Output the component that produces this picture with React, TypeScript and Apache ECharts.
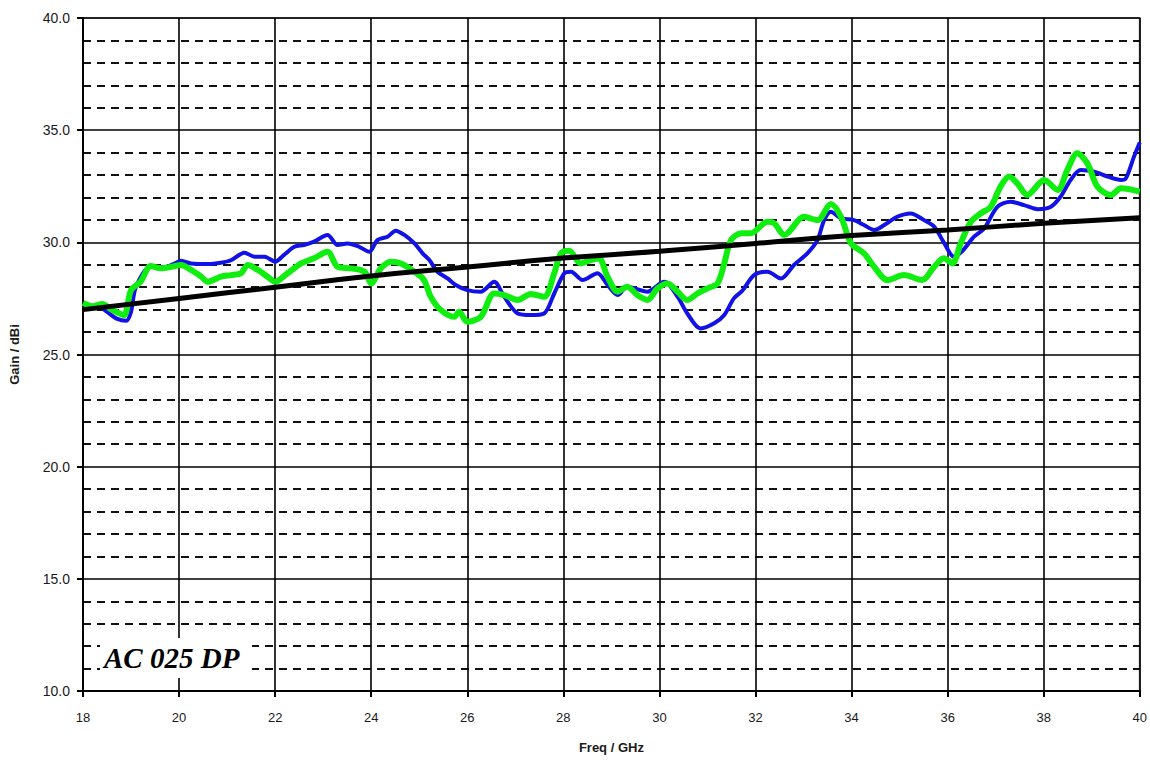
import React, { useEffect, useRef } from "react";
import * as echarts from "echarts";

const xTicks = [18, 40, 2];
const yTicks = [10, 40, 5];

const blueCurve: number[][] = [
  [18.0, 27.05], [18.3, 27.15], [18.5, 26.9], [18.7, 26.6], [18.9, 26.5], [19.0, 26.9], [19.1, 28.0],
  [19.4, 28.9], [19.7, 28.9], [19.9, 29.05], [20.04, 29.18], [20.25, 29.06], [20.6, 29.03], [20.87, 29.09],
  [21.08, 29.2], [21.36, 29.54], [21.57, 29.36], [21.78, 29.36], [22.0, 29.14], [22.18, 29.43], [22.4, 29.8],
  [22.6, 29.88], [22.81, 30.03], [23.09, 30.33], [23.3, 29.88], [23.51, 29.95], [23.75, 29.8], [23.96, 29.58],
  [24.13, 30.1], [24.34, 30.25], [24.51, 30.52], [24.69, 30.33], [24.9, 29.95], [25.07, 29.51], [25.21, 29.21],
  [25.38, 28.69], [25.59, 28.39], [25.76, 28.1], [26.0, 27.87], [26.28, 27.8], [26.56, 28.24], [26.77, 27.57],
  [27.05, 26.83], [27.32, 26.76], [27.6, 26.83], [27.81, 27.72], [28.02, 28.62], [28.16, 28.69], [28.4, 28.32],
  [28.71, 28.62], [28.92, 28.1], [29.13, 27.65], [29.33, 28.02], [29.75, 27.8], [30.1, 28.24], [30.38, 27.57],
  [30.58, 26.83], [30.86, 26.16], [31.14, 26.39], [31.35, 26.76], [31.55, 27.5], [31.73, 27.85], [31.97, 28.54],
  [32.25, 28.69], [32.53, 28.39], [32.8, 28.99], [33.08, 29.51], [33.29, 30.1], [33.43, 30.99], [33.57, 31.36],
  [33.78, 31.07], [34.05, 30.99], [34.26, 30.77], [34.47, 30.55], [34.68, 30.77], [34.95, 31.14], [35.23, 31.29],
  [35.51, 30.99], [35.72, 30.7], [35.92, 30.0], [36.13, 29.36], [36.3, 29.6], [36.55, 30.25], [36.76, 30.62],
  [37.04, 31.59], [37.31, 31.81], [37.59, 31.66], [37.87, 31.48], [38.15, 31.59], [38.35, 32.03], [38.56, 32.78],
  [38.77, 33.22], [39.05, 33.15], [39.33, 32.93], [39.61, 32.78], [39.71, 32.85], [39.88, 33.82], [40.0, 34.45],
];

const greenCurve: number[][] = [
  [18.0, 27.3], [18.2, 27.15], [18.4, 27.25], [18.6, 27.0], [18.85, 26.76], [19.0, 27.87], [19.2, 28.25],
  [19.41, 28.94], [19.62, 28.84], [19.83, 28.9], [20.04, 28.99], [20.25, 28.77], [20.46, 28.47], [20.6, 28.24],
  [20.87, 28.47], [21.08, 28.54], [21.29, 28.62], [21.43, 28.99], [21.64, 28.77], [21.84, 28.47], [22.0, 28.24],
  [22.26, 28.62], [22.54, 29.06], [22.81, 29.29], [23.09, 29.58], [23.3, 28.91], [23.58, 28.84], [23.86, 28.69],
  [24.0, 28.17], [24.2, 28.84], [24.41, 29.14], [24.62, 29.06], [24.9, 28.69], [25.1, 28.32], [25.24, 27.57],
  [25.45, 26.98], [25.73, 26.68], [25.83, 26.91], [26.0, 26.46], [26.28, 26.68], [26.56, 27.72], [26.77, 27.65],
  [27.05, 27.43], [27.32, 27.7], [27.6, 27.57], [27.81, 28.62], [27.95, 29.51], [28.12, 29.63], [28.36, 29.06],
  [28.57, 29.21], [28.74, 29.29], [28.92, 28.47], [29.13, 27.8], [29.33, 28.02], [29.54, 27.65], [29.75, 27.43],
  [29.96, 27.95], [30.17, 28.17], [30.38, 27.8], [30.58, 27.43], [30.79, 27.72], [31.0, 27.95], [31.21, 28.17],
  [31.35, 29.06], [31.49, 30.1], [31.7, 30.4], [31.9, 30.4], [32.25, 30.92], [32.39, 30.85], [32.6, 30.33],
  [33.01, 31.14], [33.29, 30.99], [33.57, 31.71], [33.78, 31.14], [33.99, 29.95], [34.26, 29.51], [34.47, 28.91],
  [34.75, 28.32], [35.09, 28.54], [35.47, 28.32], [35.72, 28.91], [35.92, 29.29], [36.1, 29.06], [36.27, 29.95],
  [36.48, 30.9], [36.69, 31.29], [36.9, 31.59], [37.1, 32.48], [37.28, 32.93], [37.45, 32.63], [37.66, 32.11],
  [38.01, 32.78], [38.29, 32.33], [38.49, 33.22], [38.7, 33.97], [38.91, 33.52], [39.12, 32.48], [39.4, 32.11],
  [39.61, 32.41], [40.0, 32.26],
];

const blackCurve: number[][] = [
  [18, 27.0], [20, 27.5], [22, 28.0], [24, 28.5], [26, 28.9], [28, 29.3], [30, 29.6],
  [32, 29.95], [34, 30.3], [36, 30.55], [38, 30.85], [40, 31.1],
];

const xName = "Freq / GHz";
const yName = "Gain / dBi";
const annotation = "AC 025 DP";

export default function App() {
  const ref = useRef<HTMLDivElement>(null);
  useEffect(() => {
    document.body.style.margin = "0";
    const chart = echarts.init(ref.current!, null, { renderer: "svg" });
    const labelStyle = { color: "#1a1a1a", fontSize: 13, fontFamily: "Liberation Sans, Arial, sans-serif" };
    chart.setOption({
      animation: false,
      backgroundColor: "#ffffff",
      grid: {
        left: 82, right: 10, top: 18, bottom: 69,
        show: true, borderColor: "#8a8a8a", borderWidth: 2, backgroundColor: "transparent",
      },
      xAxis: {
        type: "value", min: xTicks[0], max: xTicks[1], interval: xTicks[2],
        name: xName, nameLocation: "middle", nameGap: 50,
        nameTextStyle: { ...labelStyle, fontWeight: "bold", fontSize: 13 },
        axisLine: { show: true, onZero: false, lineStyle: { color: "#000", width: 2 } },
        axisTick: { show: true, length: 6, lineStyle: { color: "#000", width: 2 } },
        axisLabel: { ...labelStyle, margin: 20 },
        splitLine: { show: true, lineStyle: { color: "#000", width: 1.6 } },
      },
      yAxis: {
        type: "value", min: yTicks[0], max: yTicks[1], interval: yTicks[2],
        name: yName, nameLocation: "middle", nameGap: 62, nameRotate: 90,
        nameTextStyle: { ...labelStyle, fontWeight: "bold", fontSize: 13 },
        axisLine: { show: true, onZero: false, lineStyle: { color: "#000", width: 2 } },
        axisTick: { show: true, length: 6, lineStyle: { color: "#000", width: 2 } },
        axisLabel: { ...labelStyle, fontSize: 14, margin: 13, formatter: (v: number) => v.toFixed(1) },
        splitLine: { show: true, lineStyle: { color: "#000", width: 1.6 } },
        minorTick: { show: false, splitNumber: 5 },
        minorSplitLine: { show: true, lineStyle: { color: "#111", width: 2, type: [8, 6] } },
      },
      series: [
        {
          type: "line", data: blueCurve, showSymbol: false, smooth: 0.3,
          lineStyle: { color: "#1212e6", width: 4 }, z: 3,
        },
        {
          type: "line", data: greenCurve, showSymbol: false, smooth: 0.3,
          lineStyle: { color: "#10ee10", width: 6 }, z: 4,
        },
        {
          type: "line", data: blackCurve, showSymbol: false, smooth: true,
          lineStyle: { color: "#000000", width: 5 }, z: 5,
        },
      ],
      graphic: [
        {
          type: "rect", left: 100, top: 638, z: 10,
          shape: { width: 152, height: 40 },
          style: { fill: "#ffffff" },
        },
        {
          type: "text", left: 104, top: 643, z: 11,
          style: {
            text: annotation, fill: "#000",
            font: "italic bold 29px 'Liberation Serif', 'Times New Roman', serif",
          },
        },
      ],
    });
    return () => chart.dispose();
  }, []);
  return <div ref={ref} style={{ width: 1150, height: 760 }} />;
}
